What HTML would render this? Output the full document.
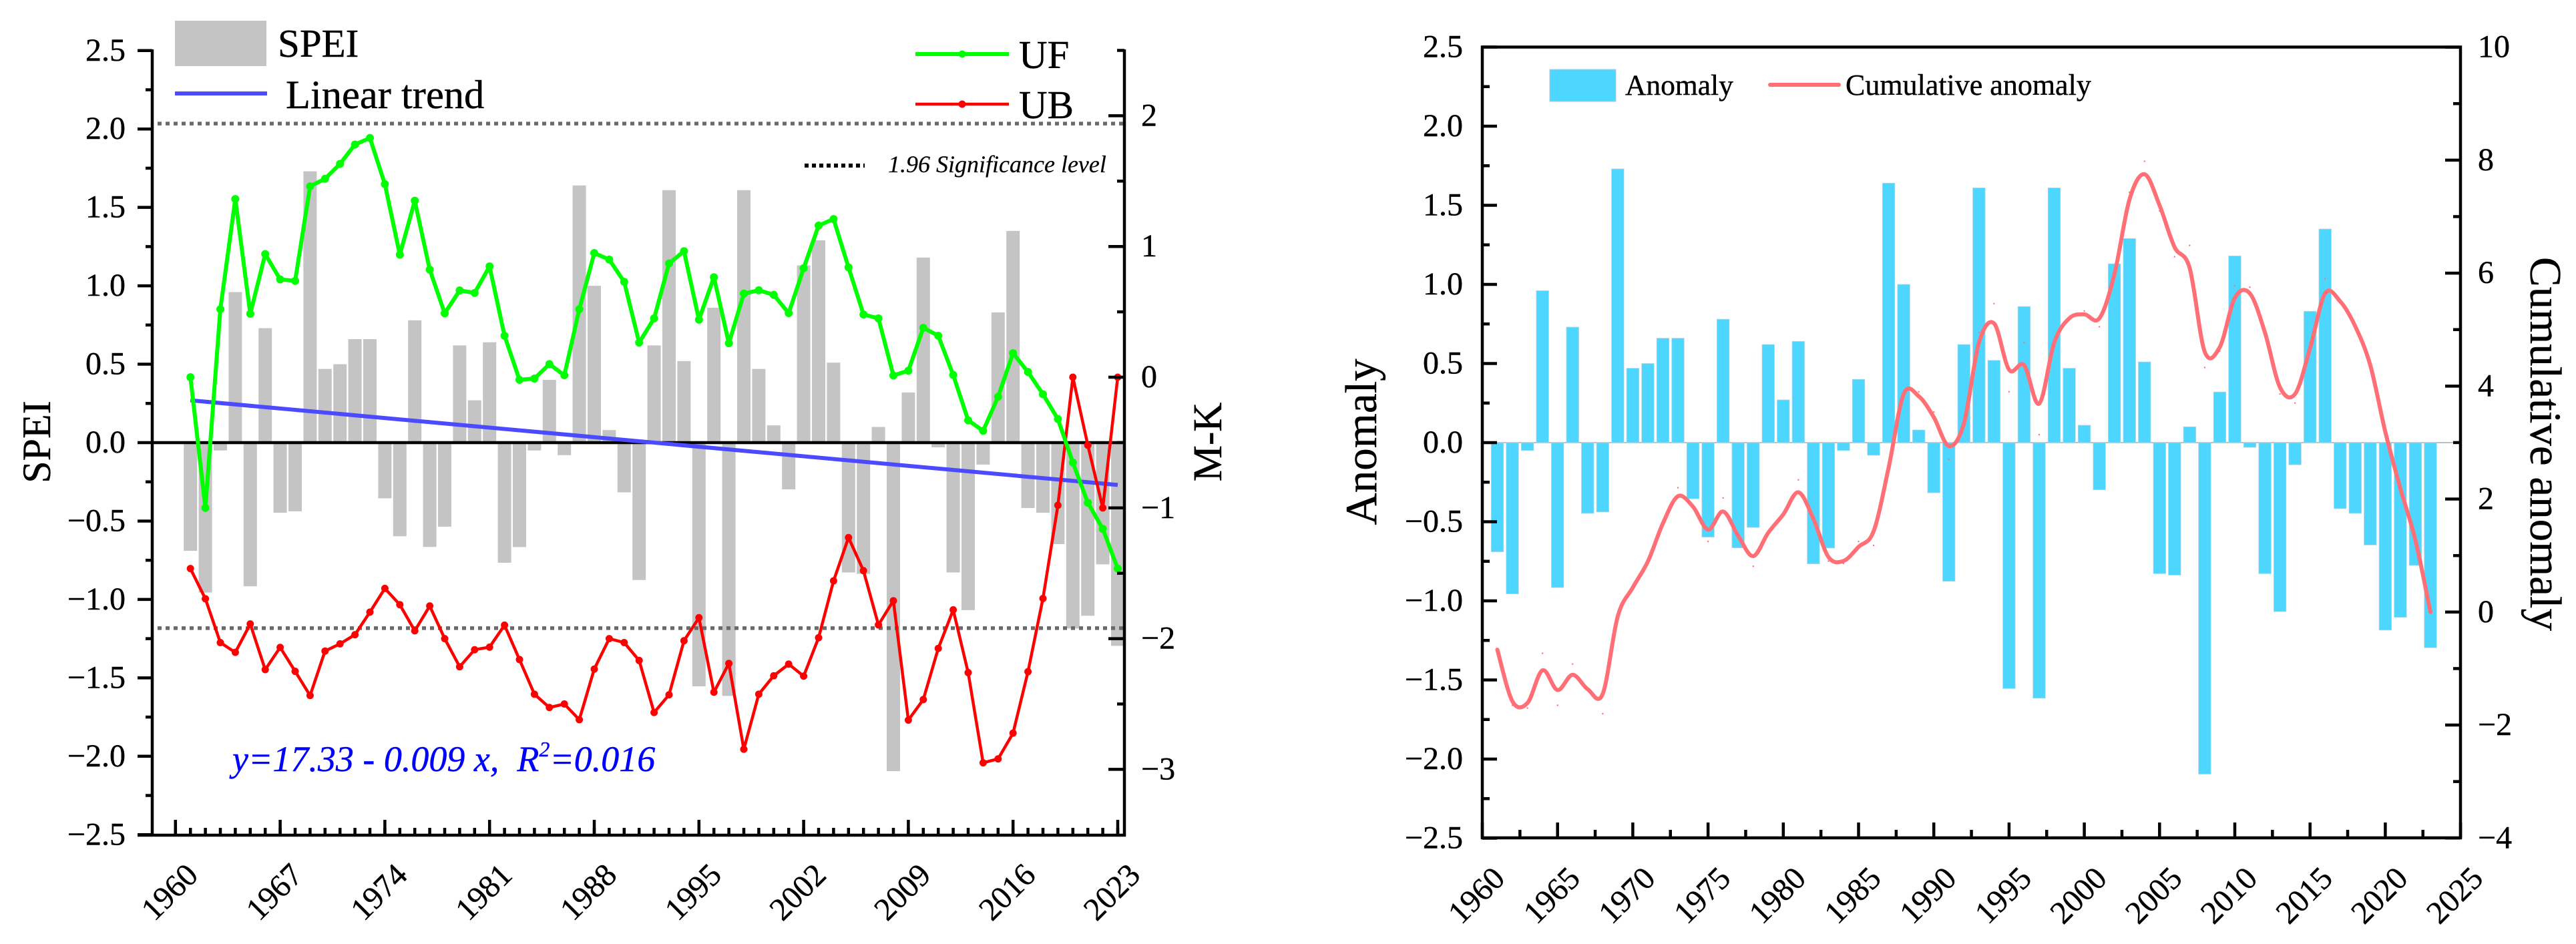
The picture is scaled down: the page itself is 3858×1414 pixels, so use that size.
<!DOCTYPE html>
<html lang="en">
<head>
<meta charset="utf-8">
<title>SPEI trend and anomaly charts</title>
<style>
html,body{margin:0;padding:0;background:#fff;width:3858px;height:1414px;overflow:hidden}
svg{display:block}
text{font-family:"Liberation Serif",serif;fill:#000;stroke:#000;stroke-width:0.4;white-space:pre}
</style>
</head>
<body>
<svg id="chart" xmlns="http://www.w3.org/2000/svg" width="3858" height="1414" viewBox="0 0 3858 1414">
  <rect x="0" y="0" width="3858" height="1414" fill="#fff"/>
  <g id="left-panel"></g>
  <g id="right-panel"></g>

  <g>
    <rect x="262" y="31" width="137" height="68" fill="#c4c4c4"/>
    <text x="416" y="85" font-size="59">SPEI</text>
    <line x1="262" y1="140" x2="400" y2="140" stroke="#4a4aff" stroke-width="6"/>
    <text x="428" y="162" font-size="60.5">Linear trend</text>
    <line x1="1371" y1="81" x2="1511" y2="81" stroke="#00ff00" stroke-width="6"/>
    <circle cx="1441" cy="81" r="5.5" fill="#00ff00"/>
    <text x="1526" y="102" font-size="59">UF</text>
    <line x1="1371" y1="156" x2="1511" y2="156" stroke="#ff0000" stroke-width="4.5"/>
    <circle cx="1441" cy="156" r="5.5" fill="#ff0000"/>
    <text x="1526" y="177" font-size="59">UB</text>
    <line x1="1205" y1="248" x2="1295" y2="248" stroke="#000" stroke-width="6" stroke-dasharray="6 5"/>
    <text x="1330" y="258" font-size="36" font-style="italic" style="stroke-width:0.2">1.96 Significance level</text>
    <text x="348" y="1155" font-size="54" font-style="italic" style="fill:#0000ff;stroke:#0000ff">y=17.33 - 0.009 x,  R<tspan font-size="32" dy="-22">2</tspan><tspan dy="22">=0.016</tspan></text>
  </g>

  <g>
    <rect x="2321" y="104" width="99" height="48" fill="#4dd6ff" stroke="#b5c8d0" stroke-width="1"/>
    <text x="2434" y="142" font-size="43.5">Anomaly</text>
    <line x1="2651" y1="127" x2="2754" y2="127" stroke="#ff6f75" stroke-width="6" stroke-linecap="round"/>
    <text x="2764" y="142" font-size="44">Cumulative anomaly</text>
  </g>

  <text transform="translate(75,662) rotate(-90)" text-anchor="middle" font-size="60">SPEI</text>
  <text transform="translate(1829,662) rotate(-90)" text-anchor="middle" font-size="61">M-K</text>
  <text transform="translate(2061,662) rotate(-90)" text-anchor="middle" font-size="67">Anomaly</text>
  <text transform="translate(3790,665) rotate(90)" text-anchor="middle" font-size="67">Cumulative anomaly</text>
</svg>

<script>
// ---- Data: left panel ----
const years = [1961,1962,1963,1964,1965,1966,1967,1968,1969,1970,1971,1972,1973,1974,1975,1976,1977,1978,1979,1980,1981,1982,1983,1984,1985,1986,1987,1988,1989,1990,1991,1992,1993,1994,1995,1996,1997,1998,1999,2000,2001,2002,2003,2004,2005,2006,2007,2008,2009,2010,2011,2012,2013,2014,2015,2016,2017,2018,2019,2020,2021,2022,2023];
const speiValues = [-0.69,-0.956,-0.05,0.96,-0.916,0.73,-0.447,-0.438,1.73,0.47,0.50,0.66,0.66,-0.355,-0.597,0.78,-0.665,-0.536,0.62,0.27,0.64,-0.766,-0.666,-0.05,0.40,-0.08,1.64,1.00,0.08,-0.317,-0.876,0.62,1.61,0.52,-1.554,0.86,-1.615,1.61,0.47,0.11,-0.298,1.13,1.29,0.51,-0.828,-0.837,0.10,-2.095,0.32,1.18,-0.03,-0.828,-1.068,-0.14,0.83,1.35,-0.417,-0.447,-0.647,-1.185,-1.104,-0.776,-1.296];
const ufValues = [0.0,-1.0,0.52,1.363,0.485,0.942,0.748,0.737,1.46,1.518,1.632,1.78,1.83,1.477,0.937,1.35,0.823,0.489,0.664,0.645,0.848,0.317,-0.02,-0.01,0.1,0.015,0.52,0.95,0.9,0.73,0.265,0.45,0.87,0.964,0.44,0.765,0.26,0.64,0.665,0.63,0.49,0.834,1.16,1.21,0.84,0.48,0.45,0.013,0.05,0.378,0.317,0.017,-0.33,-0.41,-0.15,0.184,0.04,-0.13,-0.32,-0.653,-0.96,-1.16,-1.464];
const ubValues = [-1.464,-1.695,-2.03,-2.105,-1.888,-2.237,-2.067,-2.25,-2.435,-2.095,-2.04,-1.97,-1.797,-1.616,-1.74,-1.94,-1.75,-2.0,-2.215,-2.085,-2.065,-1.897,-2.16,-2.425,-2.527,-2.5,-2.62,-2.233,-2.0,-2.03,-2.167,-2.565,-2.43,-2.016,-1.84,-2.41,-2.19,-2.846,-2.425,-2.284,-2.195,-2.287,-1.993,-1.558,-1.227,-1.48,-1.895,-1.71,-2.623,-2.466,-2.075,-1.78,-2.26,-2.95,-2.92,-2.723,-2.253,-1.693,-0.98,0.0,-0.52,-1.0,0.0];
const trendYears = [1961,2023];
const trendValues = [0.27,-0.27];
const significanceLevels = [1.94,-1.92];
const speiTicks = [2.5,2,1.5,1,0.5,0,-0.5,-1,-1.5,-2,-2.5];
const speiMinorTicks = [2.25,1.75,1.25,0.75,0.25,-0.25,-0.75,-1.25,-1.75,-2.25];
const mkTicks = [2,1,0,-1,-2,-3];
const mkMinorTicks = [2.5,1.5,0.5,-0.5,-1.5,-2.5];
const leftYearLabels = [1960,1967,1974,1981,1988,1995,2002,2009,2016,2023];

// ---- Data: right panel ----
const anomalyValues = [-0.69,-0.956,-0.05,0.96,-0.916,0.73,-0.447,-0.438,1.73,0.47,0.50,0.66,0.66,-0.355,-0.597,0.78,-0.665,-0.536,0.62,0.27,0.64,-0.766,-0.666,-0.05,0.40,-0.08,1.64,1.00,0.08,-0.317,-0.876,0.62,1.61,0.52,-1.554,0.86,-1.615,1.61,0.47,0.11,-0.298,1.13,1.29,0.51,-0.828,-0.837,0.10,-2.095,0.32,1.18,-0.03,-0.828,-1.068,-0.14,0.83,1.35,-0.417,-0.447,-0.647,-1.185,-1.104,-0.776,-1.296];
const cumulativeSmooth = [-0.665,-1.58,-1.61,-1.03,-1.38,-1.11,-1.366,-1.45,-0.075,0.435,0.895,1.57,2.05,1.865,1.46,1.78,1.35,0.99,1.405,1.73,2.12,1.65,0.975,0.905,1.155,1.43,2.56,3.86,3.82,3.45,2.94,3.34,4.77,5.11,4.29,4.37,3.69,4.77,5.2,5.27,5.2,5.98,7.3,7.75,7.2,6.46,6.09,4.61,4.69,5.56,5.64,4.95,3.98,3.86,4.67,5.64,5.5,5.06,4.37,3.19,2.19,1.27,0];
const cumulativeRaw = [-0.67,-1.65,-1.7,-0.73,-1.65,-0.92,-1.37,-1.8,-0.07,0.44,0.9,1.57,2.2,1.87,1.25,2.02,1.35,0.81,1.4,1.73,2.34,1.65,0.9,0.86,1.25,1.18,2.56,3.82,3.9,3.54,2.7,3.34,4.95,5.46,3.9,4.77,3.14,4.76,5.2,5.33,5.05,5.98,7.43,7.98,7.1,6.29,6.49,4.33,4.62,5.78,5.75,4.94,3.86,3.7,4.77,5.9,5.5,5.04,4.37,3.19,2.19,1.27,0];
const anomalyTicks = [2.5,2,1.5,1,0.5,0,-0.5,-1,-1.5,-2,-2.5];
const anomalyMinorTicks = [2.25,1.75,1.25,0.75,0.25,-0.25,-0.75,-1.25,-1.75,-2.25];
const cumulativeTicks = [10,8,6,4,2,0,-2,-4];
const cumulativeMinorTicks = [9,7,5,3,1,-1,-3];
const rightYearLabels = [1960,1965,1970,1975,1980,1985,1990,1995,2000,2005,2010,2015,2020,2025];
const rightYearMinorTicks = [1962.5,1967.5,1972.5,1977.5,1982.5,1987.5,1992.5,1997.5,2002.5,2007.5,2012.5,2017.5,2022.5];

// ---- Axis functions ----
const xLeft = yr => 262.8 + (yr - 1960) * 22.4;
const ySpei = v => 663 - v * 234.9;
const yMk = v => 565 - v * 195.8;
const xRight = yr => 2220 + (yr - 1960) * 22.54;
const yAnomaly = v => 663 - v * 237;
const yCumulative = v => 916.8 - v * 84.62;

const SVGNS = 'http://www.w3.org/2000/svg';
const leftPanel = document.getElementById('left-panel');
const rightPanel = document.getElementById('right-panel');

function make(tag, parent, attrs, txt) {
  const el = document.createElementNS(SVGNS, tag);
  for (const k in attrs) el.setAttribute(k, attrs[k]);
  if (txt !== undefined) el.textContent = txt;
  parent.appendChild(el);
  return el;
}
function group(parent) { return make('g', parent, {}); }
function fmt(v, d) { return v.toFixed(d).replace('-', '\u2212'); }
function linePath(xs, ys) { return xs.map((x, i) => (i ? 'L' : 'M') + x.toFixed(1) + ' ' + ys[i].toFixed(1)).join(' '); }
function smoothPath(xs, ys) {
  let d = 'M' + xs[0].toFixed(1) + ' ' + ys[0].toFixed(1);
  for (let i = 0; i < xs.length - 1; i++) {
    const x0 = xs[Math.max(0, i - 1)], y0 = ys[Math.max(0, i - 1)];
    const x1 = xs[i], y1 = ys[i], x2 = xs[i + 1], y2 = ys[i + 1];
    const x3 = xs[Math.min(xs.length - 1, i + 2)], y3 = ys[Math.min(xs.length - 1, i + 2)];
    d += ' C' + (x1 + (x2 - x0) / 6).toFixed(1) + ' ' + (y1 + (y2 - y0) / 6).toFixed(1) + ' ' +
         (x2 - (x3 - x1) / 6).toFixed(1) + ' ' + (y2 - (y3 - y1) / 6).toFixed(1) + ' ' +
         x2.toFixed(1) + ' ' + y2.toFixed(1);
  }
  return d;
}

// ---- Left panel: bars ----
const speiBars = group(leftPanel);


years.forEach((yr, i) => {
  const top = Math.min(ySpei(0), ySpei(speiValues[i]));
  const h = Math.abs(ySpei(speiValues[i]) - ySpei(0));
  const bar = make('rect', speiBars, {x: xLeft(yr) - 10, y: top, width: 20, height: h, fill: '#c4c4c4'});
  
  
});

// ---- Left panel: significance lines ----
significanceLevels.forEach((lvl, i) => {
  const ln = make('line', leftPanel, {x1: 236, x2: 1684, y1: yMk(lvl), y2: yMk(lvl), stroke: '#6a6a6a', 'stroke-width': 5.5, 'stroke-dasharray': '6 6'});
  
  
});

// ---- Left panel: zero line ----
const zeroLine = make('line', leftPanel, {x1: 228, x2: 1684, y1: ySpei(0), y2: ySpei(0), stroke: '#000', 'stroke-width': 4.5});



// ---- Left panel: trend, UB, UF ----
const trendLine = make('path', leftPanel, {d: linePath(trendYears.map(xLeft), trendValues.map(ySpei)), fill: 'none', stroke: '#4a4aff', 'stroke-width': 6});



const ubLine = make('path', leftPanel, {d: linePath(years.map(xLeft), ubValues.map(yMk)), fill: 'none', stroke: '#ff0000', 'stroke-width': 4.5, 'stroke-linejoin': 'round'});


const ubPoints = group(leftPanel);


years.forEach((yr, i) => {
  const p = make('circle', ubPoints, {cx: xLeft(yr), cy: yMk(ubValues[i]), r: 5.5, fill: '#ff0000'});
  
  
});

const ufLine = make('path', leftPanel, {d: linePath(years.map(xLeft), ufValues.map(yMk)), fill: 'none', stroke: '#00ff00', 'stroke-width': 6, 'stroke-linejoin': 'round'});


const ufPoints = group(leftPanel);


years.forEach((yr, i) => {
  const p = make('circle', ufPoints, {cx: xLeft(yr), cy: yMk(ufValues[i]), r: 6, fill: '#00ff00'});
  
  
});

// ---- Left panel: axes ----
const leftAxes = group(leftPanel);


function stroke(parent, x1, y1, x2, y2, name) {
  const ln = make('line', parent, {x1: x1, y1: y1, x2: x2, y2: y2, stroke: '#000', 'stroke-width': 4.5});
  
  
  return ln;
}
stroke(leftAxes, 228, 74, 228, 1253, 'spei-y-axis');
stroke(leftAxes, 1684, 74, 1684, 1253, 'mk-y-axis');
stroke(leftAxes, 206, 1251, 1686, 1251, 'left-x-axis');
speiTicks.forEach(v => {
  stroke(leftAxes, 206, ySpei(v), 228, ySpei(v), 'spei-tick');
  const t = make('text', leftAxes, {x: 188, y: ySpei(v) + 15, 'text-anchor': 'end', 'font-size': 48}, fmt(v, 1));
  
  
});
speiMinorTicks.forEach(v => { stroke(leftAxes, 218, ySpei(v), 228, ySpei(v), 'spei-minor-tick'); });
mkTicks.forEach(v => {
  stroke(leftAxes, 1660, yMk(v), 1684, yMk(v), 'mk-tick');
  const t = make('text', leftAxes, {x: 1709, y: yMk(v) + 15, 'font-size': 48}, fmt(v, 0));
  
  
});
mkMinorTicks.forEach(v => { stroke(leftAxes, 1673, yMk(v), 1684, yMk(v), 'mk-minor-tick'); });
for (let yr = 1960; yr <= 2023; yr++) {
  stroke(leftAxes, xLeft(yr), 1240, xLeft(yr), 1251, 'left-x-minor-tick');
}
leftYearLabels.forEach(yr => {
  stroke(leftAxes, xLeft(yr), 1228, xLeft(yr), 1251, 'left-x-tick');
  const t = make('text', leftAxes, {transform: 'translate(' + (xLeft(yr) - 9) + ',1336) rotate(-45)', y: 16, 'text-anchor': 'middle', 'font-size': 48}, String(yr));
  
  
});

// ---- Right panel: bars ----
const anomalyZero = make('line', rightPanel, {x1: 2220, x2: 3685, y1: yAnomaly(0), y2: yAnomaly(0), stroke: '#a8a8a8', 'stroke-width': 1.5});


const anomalyBars = group(rightPanel);


years.forEach((yr, i) => {
  const top = Math.min(yAnomaly(0), yAnomaly(anomalyValues[i]));
  const h = Math.abs(yAnomaly(anomalyValues[i]) - yAnomaly(0));
  const bar = make('rect', anomalyBars, {x: xRight(yr) - 9.25, y: top, width: 18.5, height: h, fill: '#4dd6ff', stroke: '#b5d5e0', 'stroke-width': 0.8});
  
  
});

// ---- Right panel: cumulative series ----
const rawDots = group(rightPanel);


years.forEach((yr, i) => {
  const p = make('circle', rawDots, {cx: xRight(yr), cy: yCumulative(cumulativeRaw[i]), r: 1.2, fill: '#ff6f75'});
  
  
});
const cumLine = make('path', rightPanel, {d: smoothPath(years.map(xRight), cumulativeSmooth.map(yCumulative)), fill: 'none', stroke: '#ff6f75', 'stroke-width': 6, 'stroke-linecap': 'round'});



// ---- Right panel: axes ----
const rightAxes = group(rightPanel);


const frame = make('rect', rightAxes, {x: 2220, y: 70.5, width: 1465, height: 1184.5, fill: 'none', stroke: '#000', 'stroke-width': 4.5});


anomalyTicks.forEach(v => {
  stroke(rightAxes, 2220, yAnomaly(v), 2242, yAnomaly(v), 'anomaly-tick');
  const t = make('text', rightAxes, {x: 2191, y: yAnomaly(v) + 15, 'text-anchor': 'end', 'font-size': 48}, fmt(v, 1));
  
  
});
anomalyMinorTicks.forEach(v => { stroke(rightAxes, 2220, yAnomaly(v), 2231, yAnomaly(v), 'anomaly-minor-tick'); });
cumulativeTicks.forEach(v => {
  stroke(rightAxes, 3662, yCumulative(v), 3685, yCumulative(v), 'cumulative-tick');
  const t = make('text', rightAxes, {x: 3711, y: yCumulative(v) + 15, 'font-size': 48}, fmt(v, 0));
  
  
});
cumulativeMinorTicks.forEach(v => { stroke(rightAxes, 3674, yCumulative(v), 3685, yCumulative(v), 'cumulative-minor-tick'); });
rightYearMinorTicks.forEach(yr => { stroke(rightAxes, xRight(yr), 1243, xRight(yr), 1255, 'right-x-minor-tick'); });
rightYearLabels.forEach(yr => {
  stroke(rightAxes, xRight(yr), 1232, xRight(yr), 1255, 'right-x-tick');
  const t = make('text', rightAxes, {transform: 'translate(' + (xRight(yr) - 9) + ',1341) rotate(-45)', y: 16, 'text-anchor': 'middle', 'font-size': 48}, String(yr));
  
  
});
</script>
</body>
</html>
